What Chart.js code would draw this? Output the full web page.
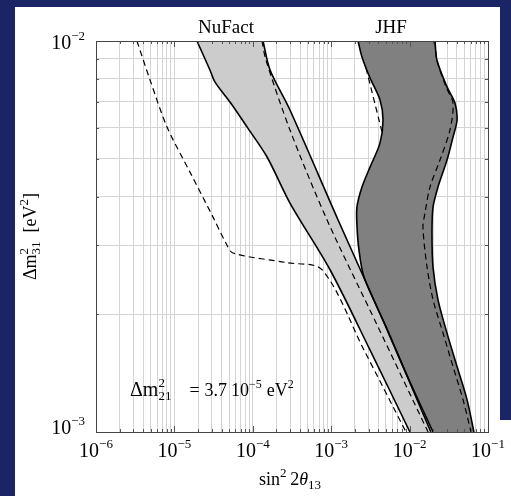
<!DOCTYPE html>
<html>
<head>
<meta charset="utf-8">
<script src="https://cdn.jsdelivr.net/npm/chart.js@4.4.0/dist/chart.umd.min.js"></script>
<style>
  html, body { margin: 0; padding: 0; background: #1b2566; }
  #wrap { position: absolute; left: 0; top: 0; width: 511px; height: 496px; }
</style>
</head>
<body>
<div id="wrap"><canvas id="c" width="511" height="496"></canvas></div>
<script>
// Axis ranges: sin^2(2 theta13) and Delta m^2_31 [eV^2]
const xRange = [1e-6, 1e-1];
const yRange = [1e-3, 1e-2];
const xDecades = [1e-6, 1e-5, 1e-4, 1e-3, 1e-2, 1e-1];
const xDecadeExp = ['−6', '−5', '−4', '−3', '−2', '−1'];
const yDecades = [1e-3, 1e-2];
const yDecadeExp = ['−3', '−2'];

// NuFact allowed region: left and right solid edges
const nuLeftX  = [1.94e-5, 2.84e-5, 3.30e-5, 5.12e-5, 8.43e-5, 1.52e-4, 2.98e-4, 9.66e-4, 3.13e-3, 1.01e-2];
const nuLeftY  = [1e-2, 8.43e-3, 7.85e-3, 6.98e-3, 6.03e-3, 5.05e-3, 3.85e-3, 2.60e-3, 1.62e-3, 1e-3];
const nuRightX = [1.35e-4, 1.66e-4, 2.98e-4, 1.22e-3, 4.85e-3, 1.87e-2];
const nuRightY = [1e-2, 8.43e-3, 6.66e-3, 3.49e-3, 1.88e-3, 1e-3];
// NuFact dashed contours
const nuRightDashX = [1.31e-4, 1.47e-4, 2.98e-4, 8.83e-4, 3.84e-3, 1.72e-2];
const nuRightDashY = [1e-2, 8.94e-3, 5.92e-3, 3.49e-3, 1.88e-3, 1e-3];
const nuOuterDashX = [3.33e-6, 4.89e-6, 8.05e-6, 1.58e-5, 3.10e-5, 4.55e-5, 5.58e-5, 2.73e-4, 7.64e-4, 2.62e-3, 9.0e-3];
const nuOuterDashY = [1e-2, 7.95e-3, 6.03e-3, 4.62e-3, 3.55e-3, 3.04e-3, 2.87e-3, 2.71e-3, 2.60e-3, 1.62e-3, 1e-3];

// JHF allowed region: left and right solid edges
const jhfLeftX  = [2.20e-3, 2.47e-3, 3.13e-3, 4.19e-3, 4.58e-3, 4.19e-3, 3.13e-3, 2.47e-3, 2.13e-3, 2.13e-3, 2.26e-3, 2.62e-3, 5.00e-3, 9.82e-3, 1.99e-2];
const jhfLeftY  = [1e-2, 9.10e-3, 8.04e-3, 7.07e-3, 6.28e-3, 5.48e-3, 4.76e-3, 4.23e-3, 3.76e-3, 3.38e-3, 2.92e-3, 2.49e-3, 1.86e-3, 1.36e-3, 1e-3];
const jhfRightX = [2.11e-2, 2.23e-2, 3.00e-2, 3.79e-2, 4.03e-2, 3.58e-2, 3.00e-2, 2.30e-2, 1.99e-2, 1.93e-2, 1.99e-2, 2.30e-2, 3.00e-2, 4.03e-2, 5.40e-2, 6.62e-2];
const jhfRightY = [1e-2, 8.94e-3, 7.63e-3, 6.94e-3, 6.28e-3, 5.68e-3, 4.96e-3, 4.23e-3, 3.76e-3, 3.23e-3, 2.64e-3, 2.18e-3, 1.79e-3, 1.47e-3, 1.21e-3, 1e-3];
// JHF dashed contours
const jhfRightDashX = [2.11e-2, 2.23e-2, 2.91e-2, 3.58e-2, 3.27e-2, 2.44e-2, 1.82e-2, 1.57e-2, 1.48e-2, 1.67e-2, 1.99e-2, 2.67e-2, 3.58e-2, 4.80e-2, 6.07e-2];
const jhfRightDashY = [1e-2, 8.94e-3, 7.63e-3, 6.94e-3, 5.92e-3, 4.96e-3, 4.23e-3, 3.63e-3, 3.34e-3, 2.64e-3, 2.18e-3, 1.79e-3, 1.47e-3, 1.21e-3, 1e-3];
const jhfLeftDashX = [2.78e-3, 3.22e-3, 3.62e-3, 4.07e-3, 4.45e-3];
const jhfLeftDashY = [8.53e-3, 7.58e-3, 6.90e-3, 6.28e-3, 5.85e-3];

const regionLabels = ['NuFact', 'JHF'];

// ---- helpers ----
const pts = (xs, ys) => xs.map((x, i) => ({ x: x, y: ys[i] }));
// closed outline: left edge downwards, right edge back up (corner points doubled so the spline stays sharp there)
function outline(lx, ly, rx, ry) {
  const left = pts(lx, ly);
  const right = pts(rx, ry).reverse();
  return [...left, left[left.length - 1], right[0], ...right];
}

const TENSION = 0.3;
function edge(data, dashed) {
  return {
    data: data, showLine: true, fill: false, tension: TENSION,
    borderColor: '#000', borderWidth: dashed ? 1.2 : 1.6,
    borderDash: dashed ? [6, 4] : [], pointRadius: 0, order: 0
  };
}
function area(data, color) {
  return {
    data: data, showLine: true, fill: 'shape', tension: TENSION,
    backgroundColor: color, borderColor: 'rgba(0,0,0,0)', borderWidth: 0,
    pointRadius: 0, order: 10
  };
}

// grid positions: every integer multiple inside each decade
const xGrid = [];
for (let e = -6; e <= -2; e++) for (let k = 1; k <= 9; k++) xGrid.push(k * Math.pow(10, e));
xGrid.push(1e-1);
const yGrid = [];
for (let k = 1; k <= 10; k++) yGrid.push(k * 1e-3);

const SERIF = '"Liberation Serif", "Times New Roman", serif';
const fnt = (size, italic) => (italic ? 'italic ' : '') + size + 'px ' + SERIF;

function runWidth(ctx, r) {
  ctx.font = fnt(r.size, r.italic);
  if (r.stack) return Math.max(ctx.measureText(r.sup).width, ctx.measureText(r.sub).width);
  return ctx.measureText(r.t).width;
}
function drawRuns(ctx, x, y, runs, align) {
  const w = runs.map(r => runWidth(ctx, r) + (r.gap || 0));
  const total = w.reduce((a, b) => a + b, 0);
  let cx = align === 'center' ? x - total / 2 : (align === 'right' ? x - total : x);
  ctx.textAlign = 'left';
  ctx.textBaseline = 'alphabetic';
  runs.forEach((r, i) => {
    ctx.font = fnt(r.size, r.italic);
    if (r.stack) {
      ctx.fillText(r.sup, cx, y + r.supDy);
      ctx.fillText(r.sub, cx, y + r.subDy);
    } else {
      ctx.fillText(r.t, cx, y + (r.dy || 0));
    }
    cx += w[i];
  });
}

const frame = {
  id: 'frame',
  beforeDraw(chart) {
    const ctx = chart.ctx;
    ctx.save();
    ctx.fillStyle = '#1b2566';
    ctx.fillRect(0, 0, chart.width, chart.height);
    ctx.fillStyle = '#ffffff';
    ctx.fillRect(15, 7, 485, chart.height - 7);
    ctx.fillRect(15, 420, chart.width - 15, chart.height - 420);
    ctx.restore();
  },
  afterDraw(chart) {
    const ctx = chart.ctx;
    const a = chart.chartArea;
    const xs = chart.scales.x, ys = chart.scales.y;
    ctx.save();
    // tick marks on all four sides
    ctx.strokeStyle = '#555';
    ctx.lineWidth = 1;
    ctx.beginPath();
    xGrid.forEach(v => {
      const px = Math.round(xs.getPixelForValue(v)) + 0.5;
      const len = xDecades.includes(v) ? 6 : 3;
      ctx.moveTo(px, a.bottom); ctx.lineTo(px, a.bottom - len);
      ctx.moveTo(px, a.top); ctx.lineTo(px, a.top + len);
    });
    yGrid.forEach(v => {
      const py = Math.round(ys.getPixelForValue(v)) + 0.5;
      const len = (v === 1e-3 || Math.abs(v - 1e-2) < 1e-12) ? 6 : 3;
      ctx.moveTo(a.left, py); ctx.lineTo(a.left + len, py);
      ctx.moveTo(a.right, py); ctx.lineTo(a.right - len, py);
    });
    ctx.stroke();
    ctx.strokeStyle = '#444';
    ctx.strokeRect(Math.round(a.left) + 0.5, Math.round(a.top) + 0.5,
                   Math.round(a.right - a.left), Math.round(a.bottom - a.top));

    ctx.fillStyle = '#000';
    // x tick labels
    xDecades.forEach((v, i) => {
      const px = xs.getPixelForValue(v);
      drawRuns(ctx, px, a.bottom + 25, [
        { t: '10', size: 20 }, { t: xDecadeExp[i], size: 13, dy: -9 }
      ], 'center');
    });
    // y tick labels
    const yOff = [2, 8];
    yDecades.forEach((v, i) => {
      const py = ys.getPixelForValue(v);
      drawRuns(ctx, a.left - 11, py + yOff[i], [
        { t: '10', size: 20 }, { t: yDecadeExp[i], size: 13, dy: -9 }
      ], 'right');
    });
    // region names above the frame
    ctx.font = fnt(19);
    ctx.textAlign = 'center';
    ctx.fillText(regionLabels[0], 226, 33);
    ctx.fillText(regionLabels[1], 391, 33);
    // x axis title
    drawRuns(ctx, 290, 485, [
      { t: 'sin', size: 18 }, { t: '2', size: 13, dy: -8 }, { t: '\u20092', size: 18 },
      { t: 'θ', size: 18, italic: true }, { t: '13', size: 13, dy: 4 }
    ], 'center');
    // y axis title
    ctx.save();
    ctx.translate(36, (a.top + a.bottom) / 2);
    ctx.rotate(-Math.PI / 2);
    drawRuns(ctx, 0, 0, [
      { t: 'Δm', size: 18 }, { stack: true, sup: '2', sub: '31', size: 13, supDy: -8, subDy: 4 },
      { t: '  [eV', size: 18 }, { t: '2', size: 13, dy: -8 }, { t: ']', size: 18 }
    ], 'center');
    ctx.restore();
    // solar mass splitting used
    drawRuns(ctx, 130, 396, [
      { t: 'Δm', size: 20 },
      { stack: true, sup: '2', sub: '21', size: 13, supDy: -9, subDy: 4, gap: 18 },
      { t: '=', size: 18, gap: 5 },
      { t: '3.7', size: 18, gap: 4 },
      { t: '10', size: 18 }, { t: '−5', size: 12, dy: -8, gap: 5 },
      { t: 'eV', size: 18 }, { t: '2', size: 12, dy: -8 }
    ], 'left');
    ctx.restore();
  }
};

new Chart(document.getElementById('c'), {
  type: 'scatter',
  data: {
    datasets: [
      edge(pts(nuLeftX, nuLeftY), false),
      edge(pts(nuRightX, nuRightY), false),
      edge(pts(nuRightDashX, nuRightDashY), true),
      edge(pts(nuOuterDashX, nuOuterDashY), true),
      edge(pts(jhfLeftX, jhfLeftY), false),
      edge(pts(jhfRightX, jhfRightY), false),
      edge(pts(jhfRightDashX, jhfRightDashY), true),
      edge(pts(jhfLeftDashX, jhfLeftDashY), true),
      area(outline(nuLeftX, nuLeftY, nuRightX, nuRightY), '#cccccc'),
      area(outline(jhfLeftX, jhfLeftY, jhfRightX, jhfRightY), '#808080')
    ]
  },
  options: {
    responsive: false,
    animation: false,
    events: [],
    layout: { padding: { left: 96, top: 41, right: 23, bottom: 64 } },
    plugins: { legend: { display: false }, tooltip: { enabled: false } },
    scales: {
      x: {
        type: 'logarithmic', min: xRange[0], max: xRange[1],
        afterBuildTicks: s => { s.ticks = xGrid.map(v => ({ value: v })); },
        ticks: { display: false },
        grid: { color: '#d4d4d4', lineWidth: 1, drawTicks: false },
        border: { display: false },
        title: { display: false }
      },
      y: {
        type: 'logarithmic', min: yRange[0], max: yRange[1],
        afterBuildTicks: s => { s.ticks = yGrid.map(v => ({ value: v })); },
        ticks: { display: false },
        grid: { color: '#d4d4d4', lineWidth: 1, drawTicks: false },
        border: { display: false },
        title: { display: false }
      }
    }
  },
  plugins: [frame]
});
</script>
</body>
</html>
